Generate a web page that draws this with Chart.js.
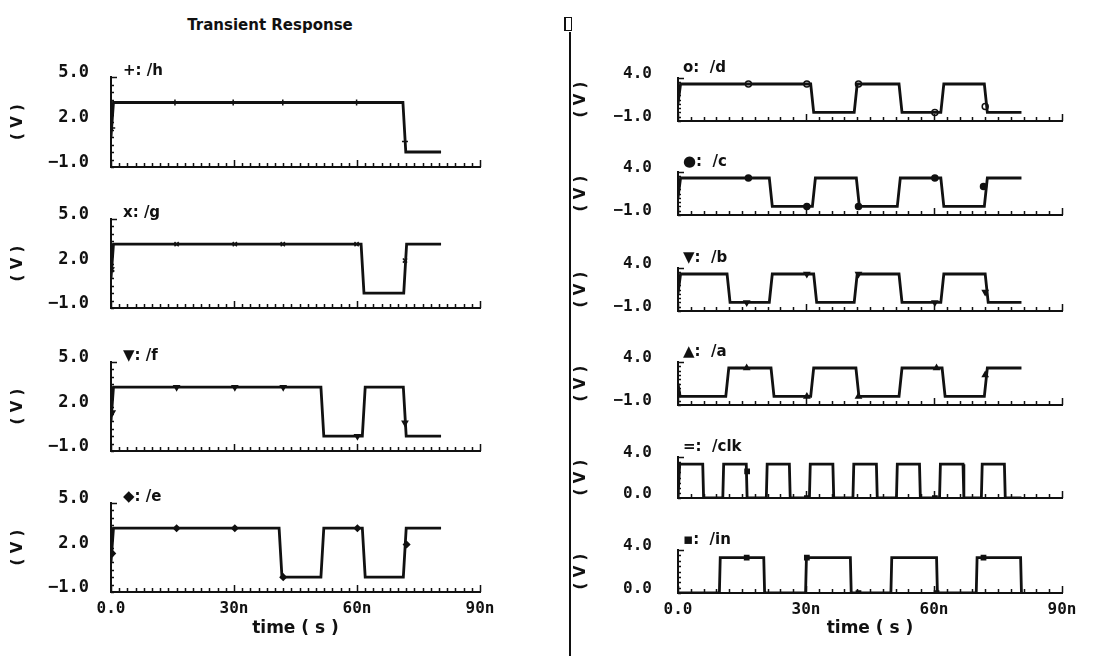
<!DOCTYPE html>
<html>
<head>
<meta charset="utf-8">
<title>Transient Response</title>
<script src="https://cdn.jsdelivr.net/npm/chart.js@4.4.0/dist/chart.umd.min.js"></script>
<style>
  html, body { margin: 0; padding: 0; background: #fff; overflow: hidden; }
  body { width: 1098px; height: 656px; position: relative; font-family: "DejaVu Sans", sans-serif; }
  canvas { position: absolute; }
  .lbl { position: absolute; font: bold 15px "DejaVu Sans", sans-serif; color: #111; white-space: pre; line-height: 16px; }
  #title { position: absolute; left: 170px; width: 200px; top: 16px; text-align: center; font: bold 15px "DejaVu Sans", sans-serif; color: #111; }
  #divider { position: absolute; left: 569px; top: 32px; width: 2px; height: 624px; background: #111; }
  #icon { position: absolute; left: 564px; top: 17px; width: 5px; height: 12px; border: 1px solid #111; border-left-width: 2px; }
</style>
</head>
<body>
<div id="title">Transient Response</div>
<div id="icon"></div>
<div id="divider"></div>

<script>
// axis ticks
const timeTicks = [0, 30, 60, 90];
const timeTickLabels = ['0.0', '30n', '60n', '90n'];
const ticksLeft = [-1, 2, 5];
const ticksReg = [-1, 4];
const ticksSrc = [0, 4];

// waveforms: time (ns) / voltage (V)
const hT = [0, 0.6, 71.2, 71.9, 80.5];
const hV = [1.0, 3.3, 3.3, 0, 0];
const gT = [0, 0.6, 61.0, 61.7, 71.4, 72.1, 80.5];
const gV = [1.0, 3.3, 3.3, 0, 0, 3.3, 3.3];
const fT = [0, 0.6, 51.2, 51.9, 61.3, 62.0, 71.3, 72.0, 80.5];
const fV = [1.0, 3.3, 3.3, 0, 0, 3.3, 3.3, 0, 0];
const eT = [0, 0.6, 41.0, 41.7, 51.2, 51.9, 61.3, 62.0, 71.3, 72.0, 80.5];
const eV = [1.0, 3.3, 3.3, 0, 0, 3.3, 3.3, 0, 0, 3.3, 3.3];
const dT = [0, 0.6, 31.1, 31.8, 41.3, 42.0, 51.8, 52.5, 61.6, 62.3, 71.8, 72.5, 80.5];
const dV = [1.0, 3.3, 3.3, 0, 0, 3.3, 3.3, 0, 0, 3.3, 3.3, 0, 0];
const cT = [0, 0.6, 21.4, 22.1, 31.5, 32.2, 41.8, 42.5, 51.4, 52.1, 61.6, 62.3, 71.8, 72.5, 80.5];
const cV = [1.0, 3.3, 3.3, 0, 0, 3.3, 3.3, 0, 0, 3.3, 3.3, 0, 0, 3.3, 3.3];
const bT = [0, 0.6, 11.5, 12.2, 21.4, 22.1, 31.8, 32.5, 41.3, 42.0, 51.8, 52.5, 61.6, 62.3, 72.0, 72.7, 80.5];
const bV = [1.0, 3.3, 3.3, 0, 0, 3.3, 3.3, 0, 0, 3.3, 3.3, 0, 0, 3.3, 3.3, 0, 0];
const aT = [0, 0.5, 11.2, 11.9, 21.8, 22.5, 31.1, 31.8, 41.7, 42.4, 51.8, 52.5, 61.9, 62.6, 71.8, 72.5, 80.5];
const aV = [1.5, 0, 0, 3.3, 3.3, 0, 0, 3.3, 3.3, 0, 0, 3.3, 3.3, 0, 0, 3.3, 3.3];
const clkT = [0, 0.2, 0.4, 5.8, 6.0, 10.5, 10.7, 16.0, 16.2, 20.7, 20.9, 26.1, 26.3, 30.8, 31.0, 36.3, 36.5,
              41.0, 41.2, 46.5, 46.7, 51.2, 51.4, 56.6, 56.8, 61.3, 61.5, 66.8, 67.0, 71.1, 71.3, 76.5, 76.7, 80.5];
const clkV = [0, 0, 3.3, 3.3, 0, 0, 3.3, 3.3, 0, 0, 3.3, 3.3, 0, 0, 3.3, 3.3, 0,
              0, 3.3, 3.3, 0, 0, 3.3, 3.3, 0, 0, 3.3, 3.3, 0, 0, 3.3, 3.3, 0, 0];
const inT = [0, 9.7, 9.9, 20.1, 20.3, 29.9, 30.1, 40.4, 40.6, 49.9, 50.1, 60.6, 60.8, 69.9, 70.1, 80.3, 80.5];
const inV = [0, 0, 3.3, 3.3, 0, 0, 3.3, 3.3, 0, 0, 3.3, 3.3, 0, 0, 3.3, 3.3, 0];

// marker symbols sitting on the traces
const hMarkT = [0.3, 15.6, 29.8, 41.9, 59.9, 71.7];
const hMarkV = [1.6, 3.3, 3.3, 3.3, 3.3, 0.7];
const gMarkT = [0.3, 16.0, 30.2, 41.9, 59.9, 71.7];
const gMarkV = [1.6, 3.3, 3.3, 3.3, 3.3, 2.2];
const fMarkT = [0.3, 16.0, 30.2, 42.0, 60.1, 71.7];
const fMarkV = [1.6, 3.3, 3.3, 3.3, 0, 0.9];
const eMarkT = [0.3, 16.0, 30.2, 42.0, 60.1, 72.1];
const eMarkV = [1.6, 3.3, 3.3, 0, 3.3, 2.2];
const dMarkT = [16.5, 30.2, 42.3, 60.2, 72.0];
const dMarkV = [3.3, 3.3, 3.3, 0, 0.7];
const cMarkT = [16.5, 30.2, 42.3, 60.2, 71.6];
const cMarkV = [3.3, 0, 0, 3.3, 2.3];
const bMarkT = [16.1, 30.2, 42.3, 60.2, 72.0];
const bMarkV = [0, 3.3, 3.3, 0, 1.2];
const aMarkT = [16.1, 30.2, 42.3, 60.6, 72.0];
const aMarkV = [3.3, 0, 0, 3.3, 2.5];
const clkMarkT = [16.2, 30.2, 60.2];
const clkMarkV = [2.6, 0, 0];
const inMarkT = [16.1, 30.2, 42.3, 60.6, 71.6];
const inMarkV = [3.3, 3.3, 0, 0, 3.3];

const ink = '#111';

// small inward tick marks like the simulator's axes
const scopeTicks = {
  id: 'scopeTicks',
  afterDraw(chart, args, o) {
    const {ctx, chartArea: a, scales: {x, y}} = chart;
    ctx.save();
    ctx.strokeStyle = ink;
    ctx.lineWidth = 1.5;
    ctx.beginPath();
    for (let i = 0; i <= 90 / o.xStep; i++) {
      const t = i * o.xStep;
      const px = Math.round(x.getPixelForValue(t)) + 0.5;
      const len = (t % 30 === 0) ? 7 : 4;
      ctx.moveTo(px, a.bottom);
      ctx.lineTo(px, a.bottom - len);
    }
    const n = Math.round((y.max - y.min) / o.yStep);
    for (let i = 0; i <= n; i++) {
      const py = Math.round(y.getPixelForValue(y.min + i * o.yStep)) + 0.5;
      const len = (i === n) ? 6 : 3;
      ctx.moveTo(a.left, py);
      ctx.lineTo(a.left + len, py);
    }
    ctx.stroke();
    ctx.restore();
  }
};

function fmt(v) {
  return (v < 0 ? '\u2212' : '') + Math.abs(v).toFixed(1);
}

function pts(T, V) {
  return T.map((t, i) => ({x: t, y: V[i]}));
}

const left = {canvasLeft: 0, yW: 111, padRight: 60, plotW: 369, tickFont: 17, padTop: 15, xStep: 2, tickGap: 22, titlePad: 9, lblX: 123, gap: ' '};
const right = {canvasLeft: 572, yW: 106, padRight: 48, plotW: 384, tickFont: 16, padTop: 12, xStep: 3, tickGap: 26, titlePad: 0, lblX: 683, gap: '  '};

const panels = [
  {col: left, top: 77, bottom: 167, T: hT, V: hV, mT: hMarkT, mV: hMarkV, min: -1, max: 5, yt: ticksLeft, sym: '+', name: '/h', ps: 'cross'},
  {col: left, top: 219, bottom: 308, T: gT, V: gV, mT: gMarkT, mV: gMarkV, min: -1, max: 5, yt: ticksLeft, sym: 'x', name: '/g', ps: 'crossRot'},
  {col: left, top: 362, bottom: 451, T: fT, V: fV, mT: fMarkT, mV: fMarkV, min: -1, max: 5, yt: ticksLeft, sym: '\u25BC', name: '/f', ps: 'triangle', rot: 180},
  {col: left, top: 503, bottom: 592, T: eT, V: eV, mT: eMarkT, mV: eMarkV, min: -1, max: 5, yt: ticksLeft, sym: '\u25C6', name: '/e', ps: 'rectRot', showX: true},
  {col: right, top: 78, bottom: 121, T: dT, V: dV, mT: dMarkT, mV: dMarkV, min: -1, max: 4, yt: ticksReg, sym: 'o', name: '/d', ps: 'circle', hollow: true},
  {col: right, top: 172, bottom: 215, T: cT, V: cV, mT: cMarkT, mV: cMarkV, min: -1, max: 4, yt: ticksReg, sym: '\u25CF', name: '/c', ps: 'circle'},
  {col: right, top: 268, bottom: 311, T: bT, V: bV, mT: bMarkT, mV: bMarkV, min: -1, max: 4, yt: ticksReg, sym: '\u25BC', name: '/b', ps: 'triangle', rot: 180},
  {col: right, top: 362, bottom: 405, T: aT, V: aV, mT: aMarkT, mV: aMarkV, min: -1, max: 4, yt: ticksReg, sym: '\u25B2', name: '/a', ps: 'triangle'},
  {col: right, top: 457, bottom: 498, T: clkT, V: clkV, mT: clkMarkT, mV: clkMarkV, min: 0, max: 4, yt: ticksSrc, sym: '=', name: '/clk', ps: 'rect'},
  {col: right, top: 550, bottom: 593, T: inT, V: inV, mT: inMarkT, mV: inMarkV, min: 0, max: 4, yt: ticksSrc, sym: '\u25AA', name: '/in', ps: 'rect', showX: true}
];

panels.forEach(p => {
  const c = p.col;
  const xH = p.showX ? 656 - p.bottom : 12;
  const cv = document.createElement('canvas');
  cv.width = c.yW + c.plotW + c.padRight;
  cv.height = c.padTop + (p.bottom - p.top) + xH;
  cv.style.left = c.canvasLeft + 'px';
  cv.style.top = (p.top - c.padTop) + 'px';
  document.body.appendChild(cv);

  const lbl = document.createElement('div');
  lbl.className = 'lbl';
  lbl.textContent = p.sym + ':' + c.gap + p.name;
  lbl.style.left = c.lblX + 'px';
  lbl.style.top = (p.top - (c === left ? 15 : 19)) + 'px';
  document.body.appendChild(lbl);

  new Chart(cv, {
    type: 'scatter',
    data: {
      datasets: [
        {data: pts(p.T, p.V), showLine: true, borderColor: ink, borderWidth: 2.8, pointRadius: 0, tension: 0},
        {data: pts(p.mT, p.mV), showLine: false, pointStyle: p.ps, rotation: p.rot || 0, pointRadius: 3,
         pointBorderWidth: 1.5, pointBorderColor: ink, pointBackgroundColor: p.hollow ? '#fff' : ink}
      ]
    },
    options: {
      responsive: false,
      animation: false,
      events: [],
      layout: {padding: {top: c.padTop, right: c.padRight, bottom: 0, left: 0}},
      plugins: {
        legend: {display: false},
        tooltip: {enabled: false},
        scopeTicks: {xStep: c.xStep, yStep: 0.5}
      },
      scales: {
        x: {
          type: 'linear', min: 0, max: 90,
          afterBuildTicks: s => { s.ticks = timeTicks.map(v => ({value: v})); },
          afterFit: s => { s.height = xH; },
          grid: {display: false, drawTicks: true, tickLength: 7},
          border: {display: true, color: ink, width: 2},
          ticks: {
            display: !!p.showX, autoSkip: false, maxRotation: 0, padding: 0, color: ink,
            font: {family: 'DejaVu Sans Mono', weight: 'bold', size: 16},
            callback: v => timeTickLabels[timeTicks.indexOf(v)]
          },
          title: {
            display: !!p.showX, text: 'time ( s )', color: ink,
            font: {family: 'DejaVu Sans', weight: 'bold', size: 17},
            padding: {top: 0, bottom: 17}
          }
        },
        y: {
          min: p.min, max: p.max,
          afterBuildTicks: s => { s.ticks = p.yt.map(v => ({value: v})); },
          afterFit: s => { s.width = c.yW; },
          // invisible tick marks give the gap between labels and axis
          grid: {display: false, drawTicks: true, tickLength: c.tickGap},
          border: {display: true, color: ink, width: 2},
          ticks: {
            padding: 0, labelOffset: -4, color: ink,
            font: {family: 'DejaVu Sans Mono', weight: 'bold', size: c.tickFont},
            callback: v => fmt(v)
          },
          title: {
            display: true, text: '( V )', color: ink,
            font: {family: 'DejaVu Sans', weight: 'bold', size: 15},
            padding: {top: c.titlePad, bottom: 0}
          }
        }
      }
    },
    plugins: [scopeTicks]
  });
});
</script>
</body>
</html>
